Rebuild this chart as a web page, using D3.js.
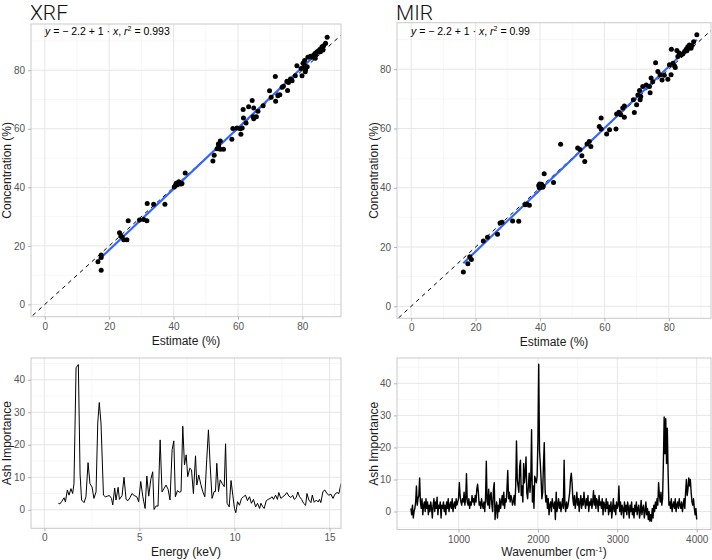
<!DOCTYPE html>
<html>
<head>
<meta charset="utf-8">
<script src="https://cdn.jsdelivr.net/npm/d3@7"></script>
<style>
  html, body { margin: 0; padding: 0; background: #fff; }
  svg { display: block; font-family: "Liberation Sans", Arial, sans-serif; }
</style>
</head>
<body>
<svg id="chart" width="712" height="560"></svg>
<script>
// ---------------- DATA ----------------
const panelTitles = ["XRF", "MIR"];

const xrfEstimate = [87.7,87.2,86.6,86.1,85.8,85.4,85.0,84.6,84.3,84.0,83.7,83.5,83.0,82.5,81.7,84.0,86.4,85.6,
  80.6,80.4,80.9,79.9,81.5,78.3,80.2,80.7,81.0,79.6,
  77.8,76.3,75.2,75.7,76.8,75.4,74.1,
  71.6,69.8,70.3,71.7,73.0,73.7,72.4,
  67.8,66.2,64.9,64.4,63.3,61.6,64.7,65.7,64.9,61.7,58.1,60.9,60.7,59.7,58.4,61.3,62.5,
  54.5,54.0,54.5,53.5,55.5,52.6,52.2,53.9,
  43.6,
  40.8,41.6,40.5,42.3,41.2,40.2,42.6,41.9,
  31.8,33.8,37.3,
  29.4,30.7,31.7,25.9,
  23.2,23.6,24.5,25.5,24.0,
  17.5,17.5,16.5,17.5];
const xrfConcentration = [91.3,89.2,88.4,88.0,87.3,87.1,86.6,86.3,85.6,85.8,85.0,85.2,84.4,84.8,84.4,84.1,86.9,86.3,
  81.8,80.7,79.5,78.1,81.2,81.5,82.4,83.3,80.2,80.6,
  78.1,77.0,76.2,75.8,76.4,73.1,74.5,
  77.9,73.0,70.8,69.4,71.6,74.2,71.3,
  67.9,66.0,67.1,69.7,67.5,66.6,64.1,64.1,63.4,63.7,56.4,58.1,60.0,60.3,60.1,60.3,62.0,
  55.8,54.1,53.0,53.2,53.0,51.0,49.0,54.8,
  44.9,
  41.4,41.9,40.5,41.1,40.9,40.1,41.3,41.6,
  34.5,34.2,34.2,
  28.8,29.0,28.6,28.6,
  24.5,23.4,22.1,22.1,23.0,
  16.9,16.0,14.6,11.7];

const mirEstimate = [88.7,87.7,86.4,85.9,85.4,86.9,84.9,83.8,82.8,84.4,85.6,87.2,83.2,
  80.8,82.5,
  81.3,81.8,80.2,80.7,79.7,77.9,75.9,76.6,77.3,75.0,74.0,74.5,74.2,73.0,71.9,70.9,70.4,71.3,71.1,70.0,69.0,69.3,78.6,82.0,
  66.2,65.7,65.1,63.8,66.2,63.6,61.6,60.7,58.4,59.0,59.0,64.5,
  55.3,55.8,54.6,51.7,53.0,53.9,46.4,52.4,
  41.3,
  39.6,40.3,39.8,40.8,40.5,44.2,39.9,41.0,
  35.4,36.7,35.9,
  31.5,33.4,27.6,28.2,
  26.8,23.7,22.4,
  18.2,18.7,17.6,16.2];
const mirConcentration = [91.6,89.3,88.2,87.6,86.7,87.1,86.0,84.8,84.3,85.2,86.2,88.0,85.5,
  86.7,86.3,
  82.0,81.1,81.5,78.1,76.6,76.4,82.2,79.2,78.1,75.8,74.2,77.0,72.1,74.7,74.2,72.8,71.3,70.8,69.7,68.0,69.7,65.4,78.0,80.6,
  67.6,66.9,64.6,64.9,63.8,59.8,59.6,58.1,60.7,63.5,59.8,65.5,
  55.6,53.9,54.8,53.4,50.8,48.9,54.7,52.9,
  44.7,
  40.8,40.8,40.0,40.2,41.2,41.8,41.3,40.5,
  34.3,34.1,34.5,
  28.8,28.7,28.1,28.4,
  24.3,23.3,22.0,
  16.7,15.8,14.4,11.6];

// printed fit labels
const xrfLabel = { intercept: "2.2", slope: "1", r2: "0.993" };
const mirLabel = { intercept: "2.2", slope: "1", r2: "0.99" };

const xrfEnergy = [0.74,0.82,0.91,1.04,1.11,1.21,1.30,1.40,1.49,1.56,1.67,1.79,1.88,1.96,2.09,2.19,2.30,2.40,2.51,2.61,
  2.72,2.81,2.89,2.98,3.11,3.21,3.32,3.42,3.53,3.60,3.70,3.77,3.88,3.95,4.09,4.19,4.30,4.40,4.51,4.61,
  4.72,4.86,4.96,5.07,5.18,5.30,5.39,5.49,5.60,5.70,5.77,5.88,5.98,6.09,6.19,6.30,6.40,6.51,6.61,6.72,
  6.81,6.89,7.00,7.11,7.19,7.28,7.37,7.46,7.54,7.65,7.74,7.84,7.95,8.02,8.12,8.23,8.33,8.44,8.54,8.63,
  8.72,8.82,8.93,9.00,9.07,9.16,9.25,9.35,9.46,9.53,9.61,9.72,9.82,9.91,10.00,10.07,10.16,10.26,10.37,10.47,
  10.58,10.68,10.79,10.89,11.00,11.11,11.21,11.32,11.39,11.49,11.56,11.67,11.77,11.88,11.98,12.05,12.16,12.26,12.33,12.44,
  12.54,12.65,12.75,12.86,12.96,13.07,13.14,13.25,13.33,13.42,13.53,13.63,13.74,13.81,13.91,14.02,14.09,14.19,14.30,14.40,
  14.47,14.54,14.65,14.75,14.86,14.96,15.07,15.18,15.28,15.39,15.49,15.60,15.75];
const xrfImportance = [2.0,1.8,2.5,3.7,2.4,6.1,4.5,6.5,5.0,8.0,43.7,44.7,11.0,3.0,2.2,4.0,14.5,8.0,7.0,3.5,
  5.5,26.7,33.0,26.7,4.5,4.0,4.2,4.4,3.5,1.5,6.7,3.0,6.9,3.2,4.4,10.0,3.2,2.8,3.8,5.0,
  4.4,4.0,2.5,8.7,4.0,0.4,10.4,4.2,9.4,11.7,0.1,1.2,1.1,21.5,5.5,6.6,7.6,6.3,3.0,18.5,
  21.2,4.0,5.9,5.4,5.6,25.7,13.8,16.9,10.2,12.8,12.3,5.0,16.6,7.6,10.7,7.8,5.6,4.0,15.4,24.6,
  13.8,3.5,5.6,5.6,14.3,5.6,9.2,8.1,7.1,20.3,2.0,0.9,9.0,4.5,0.4,-0.9,2.5,1.4,3.5,4.0,
  4.5,2.8,4.0,2.0,3.2,0.9,2.0,0.4,2.0,0.9,0.4,2.8,3.2,3.5,4.0,3.2,4.5,3.2,5.3,3.5,
  4.0,4.5,5.3,4.2,3.8,4.4,3.2,3.8,5.5,4.0,3.2,2.0,1.4,5.0,3.0,2.2,4.5,2.3,3.0,2.4,
  3.2,2.2,5.6,6.1,5.0,4.5,4.8,3.5,4.8,5.3,5.0,8.1,8.6];

// MIR spectrum: one value every 10 cm-1 from 400 to 4000
const mirStart = 400, mirStep = 10;
const mirImportance = [
  1,-1,2,-2,0,1,3,8,2,4,        // 400
  5,10.5,3,1,4,-1,2,3,0,4,      // 500
  1,3,-1,2,0,3,1,-2,2,4,        // 600
  0,3,1,4.5,-1,2,1,3,-2,2,      // 700
  1,3,0,2,-1,3,1,4,0,2,         // 800
  3,1,4,0,2,3,1,4,2,3,          // 900
  4,9,5,3,2,4,3,6,2,4,          // 1000
  11.8,3,2,4,1,3,2,5,3,4,       // 1100
  2,5,3,7,8.5,6,2,3,1,4,        // 1200
  2,1,3,0,4,15.7,3,2,7,1,       // 1300
  5,6,2,0,7,9,-2.5,1,3,-2,      // 1400
  2,0,4,1,3,5,2,6,1,4,          // 1500
  3,7,12.8,4,6,3,5,4,2,3,       // 1600
  5,2,8,22,10,8,6,14,16,5,      // 1700
  8,3,15,9,12,17,6,4,8,12,      // 1800
  6,10,25.5,3,8,1,11,10,9,11,   // 1900
  22.5,46,19,15,10,4,6,15,21.5,7, // 2000
  3,5,1,4,-1,2,3,0,4,2,         // 2100
  1,3,-2.5,6,0,2,4,1,3,0,       // 2200
  2,4,1,16,2,0,3,1,2,4,         // 2300
  6,10,12,9,4,2,5,1,3,6,        // 2400
  2,4,0,3,5,1,4,2,6,3,          // 2500
  1,4,2,5,0,3,2,4,1,3,          // 2600
  6.5,2,5,1,4,3,0,5,2,3,        // 2700
  1,4,-1,3,2,0,4,1,3,-1,        // 2800
  2,0,3,-2,1,4,0,2,-1,3,        // 2900
  1,2,8,0,3,-1,2,1,-2,3,        // 3000
  0,2,-1,3,1,-2,2,0,3,-1,       // 3100
  1,-2,2,0,3,-1,1,2,-2,0,       // 3200
  3.5,-1,1,2,-2,0,3,-1,1,-2.5,  // 3300
  0,-3,-1,-3,1,-2,2,0,3,1,      // 3400
  4,2,9,5,3,6,2,4,15,29.5,      // 3500
  18,29,15,26,12,2,3,1,4,0,     // 3600
  2,3,1,4,0,2,3,1,4,2,          // 3700
  1,3,0,2,4,1,6,10,5,7,         // 3800
  10.5,8,10,6,3,2,4,1,-1,1,     // 3900
  -2.5                          // 4000
];
const mirWavenumber = mirImportance.map((_, i) => mirStart + i * mirStep);

// tick values
const scatterTicks = [0, 20, 40, 60, 80];
const scatterMinor = [10, 30, 50, 70, 90];
const impTicks = [0, 10, 20, 30, 40];
const impMinor = [-5, 5, 15, 25, 35, 45];
const energyTicks = [0, 5, 10, 15];
const energyMinor = [2.5, 7.5, 12.5];
const waveTicks = [1000, 2000, 3000, 4000];
const waveMinor = [500, 1500, 2500, 3500];

// ---------------- DRAWING ----------------
const svg = d3.select("#chart");
const GRID_MAJOR = "#e6e6e6", GRID_MINOR = "#f1f1f1", BORDER = "#c9c9c9", TICKCOL = "#b3b3b3", LABCOL = "#555555";
const FONT = '"Liberation Sans", Arial, sans-serif';
let clipId = 0;

function leastSquares(xs, ys) {
  const mx = d3.mean(xs), my = d3.mean(ys);
  let sxy = 0, sxx = 0;
  xs.forEach((v, i) => { sxy += (v - mx) * (ys[i] - my); sxx += (v - mx) * (v - mx); });
  const slope = sxy / sxx;
  return { slope, intercept: my - slope * mx };
}

function panel(cfg) {
  const { x0, x1, y0, y1, xDomain, yDomain } = cfg;
  const x = d3.scaleLinear().domain(xDomain).range([x0, x1]);
  const y = d3.scaleLinear().domain(yDomain).range([y1, y0]);
  const g = svg.append("g");
  const id = "clip" + (clipId++);
  svg.append("clipPath").attr("id", id).append("rect")
    .attr("x", x0).attr("y", y0).attr("width", x1 - x0).attr("height", y1 - y0);

  g.selectAll(".vmin").data(cfg.xMinor).enter().append("line")
    .attr("x1", d => x(d)).attr("x2", d => x(d)).attr("y1", y0).attr("y2", y1)
    .attr("stroke", GRID_MINOR).attr("stroke-width", 0.6);
  g.selectAll(".hmin").data(cfg.yMinor).enter().append("line")
    .attr("y1", d => y(d)).attr("y2", d => y(d)).attr("x1", x0).attr("x2", x1)
    .attr("stroke", GRID_MINOR).attr("stroke-width", 0.6);
  g.selectAll(".vmaj").data(cfg.xTicks).enter().append("line")
    .attr("x1", d => x(d)).attr("x2", d => x(d)).attr("y1", y0).attr("y2", y1)
    .attr("stroke", GRID_MAJOR).attr("stroke-width", 1);
  g.selectAll(".hmaj").data(cfg.yTicks).enter().append("line")
    .attr("y1", d => y(d)).attr("y2", d => y(d)).attr("x1", x0).attr("x2", x1)
    .attr("stroke", GRID_MAJOR).attr("stroke-width", 1);

  const content = svg.append("g").attr("clip-path", `url(#${id})`);

  svg.append("rect").attr("x", x0).attr("y", y0).attr("width", x1 - x0).attr("height", y1 - y0)
    .attr("fill", "none").attr("stroke", BORDER).attr("stroke-width", 1);

  const xAxis = d3.axisBottom(x).tickValues(cfg.xTicks).tickSize(3).tickPadding(3).tickFormat(d3.format("d"));
  const yAxis = d3.axisLeft(y).tickValues(cfg.yTicks).tickSize(3).tickPadding(3).tickFormat(d3.format("d"));
  const gx = svg.append("g").attr("transform", `translate(0,${y1})`).call(xAxis);
  const gy = svg.append("g").attr("transform", `translate(${x0},0)`).call(yAxis);
  [gx, gy].forEach(a => {
    a.select(".domain").remove();
    a.selectAll(".tick line").attr("stroke", TICKCOL);
    a.selectAll(".tick text").attr("fill", LABCOL).attr("font-size", 10).attr("font-family", FONT);
  });

  if (cfg.xTitle) {
    const t = svg.append("text").attr("x", (x0 + x1) / 2).attr("y", cfg.xTitleY)
      .attr("text-anchor", "middle").attr("font-size", 12).attr("fill", "#1a1a1a");
    cfg.xTitle(t);
  }
  svg.append("text").attr("transform", `translate(${cfg.yTitleX},${(y0 + y1) / 2}) rotate(-90)`)
    .attr("text-anchor", "middle").attr("font-size", 12).attr("fill", "#1a1a1a").text(cfg.yTitle);

  return { x, y, content };
}

function scatterPanel(opts) {
  const p = panel({
    x0: opts.x0, x1: opts.x1, y0: opts.y0, y1: opts.y1,
    xDomain: opts.xDomain, yDomain: opts.yDomain,
    xTicks: scatterTicks, yTicks: scatterTicks, xMinor: scatterMinor, yMinor: scatterMinor,
    xTitle: t => t.text("Estimate (%)"), xTitleY: opts.y1 + 28,
    yTitle: "Concentration (%)", yTitleX: opts.yTitleX
  });
  const { x, y, content } = p;
  content.append("line")
    .attr("x1", x(opts.xDomain[0] - 5)).attr("y1", y(opts.xDomain[0] - 5))
    .attr("x2", x(opts.xDomain[1] + 5)).attr("y2", y(opts.xDomain[1] + 5))
    .attr("stroke", "#000").attr("stroke-width", 1).attr("stroke-dasharray", "4,4");
  const fit = leastSquares(opts.est, opts.conc);
  const ext = d3.extent(opts.est);
  content.append("line")
    .attr("x1", x(ext[0])).attr("y1", y(fit.intercept + fit.slope * ext[0]))
    .attr("x2", x(ext[1])).attr("y2", y(fit.intercept + fit.slope * ext[1]))
    .attr("stroke", "#3366FF").attr("stroke-width", 2.2);
  content.selectAll("circle").data(opts.est.map((e, i) => [e, opts.conc[i]])).enter()
    .append("circle").attr("cx", d => x(d[0])).attr("cy", d => y(d[1])).attr("r", 2.5).attr("fill", "#000");
  svg.append("text").attr("x", opts.x0 - 1).attr("y", 19.5).attr("font-size", 21)
    .attr("font-weight", 300).attr("fill", "#111")
    .attr("font-family", 'Roboto, "Liberation Sans", Arial, sans-serif').text(opts.title);
  const eq = svg.append("text").attr("x", opts.eqX).attr("y", 35).attr("font-size", 10.5).attr("fill", "#000");
  eq.append("tspan").attr("font-style", "italic").text("y");
  eq.append("tspan").text(" = \u2212 " + opts.label.intercept + " + " + opts.label.slope + " \u00b7 ");
  eq.append("tspan").attr("font-style", "italic").text("x");
  eq.append("tspan").text(",  ");
  eq.append("tspan").attr("font-style", "italic").text("r");
  eq.append("tspan").attr("font-size", 7).attr("dy", -4).text("2");
  eq.append("tspan").attr("dy", 4).text(" = " + opts.label.r2);
}

scatterPanel({
  title: panelTitles[0], x0: 31, x1: 341, y0: 24, y1: 316.7,
  xDomain: [-4.3, 92.0], yDomain: [-4.2, 95.8], est: xrfEstimate, conc: xrfConcentration,
  label: xrfLabel, yTitleX: 11, eqX: 45
});
scatterPanel({
  title: panelTitles[1], x0: 397, x1: 711, y0: 22.7, y1: 318.3,
  xDomain: [-4.4, 93.1], yDomain: [-4.05, 95.7], est: mirEstimate, conc: mirConcentration,
  label: mirLabel, yTitleX: 378, eqX: 411
});

{
  const p = panel({
    x0: 31, x1: 341, y0: 358, y1: 528.3, xDomain: [-0.7, 15.6], yDomain: [-5.7, 46.7],
    xTicks: energyTicks, yTicks: impTicks, xMinor: energyMinor, yMinor: impMinor,
    xTitle: t => t.text("Energy (keV)"), xTitleY: 556,
    yTitle: "Ash Importance", yTitleX: 11
  });
  const line = d3.line().x(d => p.x(d)).y((d, i) => p.y(xrfImportance[i]));
  p.content.append("path").datum(xrfEnergy).attr("d", line)
    .attr("fill", "none").attr("stroke", "#000").attr("stroke-width", 1).attr("stroke-linejoin", "round");
}

{
  const p = panel({
    x0: 397, x1: 711, y0: 358, y1: 529.5, xDomain: [225, 4180], yDomain: [-5.6, 47.9],
    xTicks: waveTicks, yTicks: impTicks, xMinor: waveMinor, yMinor: impMinor,
    xTitle: t => {
      t.append("tspan").text("Wavenumber (cm");
      t.append("tspan").attr("font-size", 8).attr("dy", -4).text("-1");
      t.append("tspan").attr("dy", 4).text(")");
    }, xTitleY: 556,
    yTitle: "Ash Importance", yTitleX: 378
  });
  const line = d3.line().x(d => p.x(d)).y((d, i) => p.y(mirImportance[i]));
  p.content.append("path").datum(mirWavenumber).attr("d", line)
    .attr("fill", "none").attr("stroke", "#000").attr("stroke-width", 1.4).attr("stroke-linejoin", "round");
}
</script>
</body>
</html>
